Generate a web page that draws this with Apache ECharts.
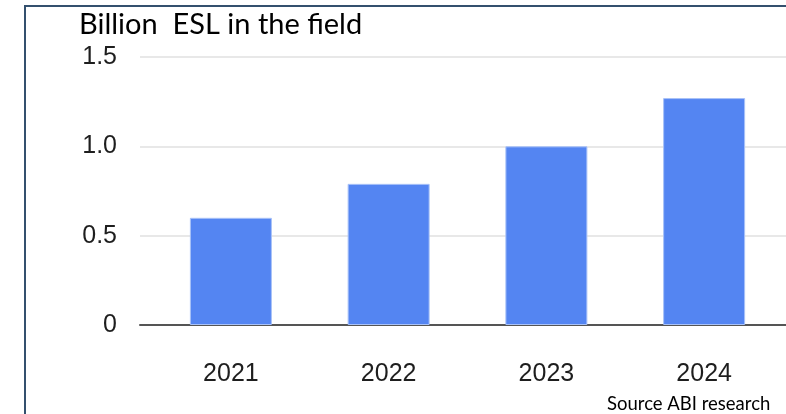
<!DOCTYPE html>
<html><head><meta charset="utf-8">
<script src="https://cdn.jsdelivr.net/npm/echarts@6/dist/echarts.min.js"></script>
<style>html,body{margin:0;padding:0;background:#fff}#c{width:786px;height:414px}</style>
</head><body><div id="c"></div>
<script>
const categories = ['2021', '2022', '2023', '2024'];
const values = [0.6, 0.79, 1.0, 1.27];
const yTicks = [0, 0.5, 1.0, 1.5];
const titleText = 'Billion  ESL in the field';
const sourceText = 'Source ABI research';

const chart = echarts.init(document.getElementById('c'), null, {renderer: 'canvas'});
const yMin = yTicks[0], yMax = yTicks[yTicks.length - 1], yStep = yTicks[1] - yTicks[0];
const labelFont = {fontFamily: 'Liberation Sans', fontSize: 25, color: '#1e1e1e'};
chart.setOption({
  animation: false,
  graphic: [
    {type: 'rect', shape: {x: 25, y: 6, width: 900, height: 600}, style: {fill: 'none', stroke: '#34506e', lineWidth: 2}, z: 100}
  ],
  title: [
    {text: titleText, left: 79, top: 10, padding: 0, textStyle: {fontFamily: 'Lato', fontWeight: 'normal', fontSize: 29, color: '#000'}},
    {text: sourceText, left: 607, top: 395, padding: 0, textStyle: {fontFamily: 'Lato', fontWeight: 'normal', fontSize: 18.5, color: '#000'}}
  ],
  grid: [
    {left: 140, right: 0, top: 57, bottom: 89},
    {left: 152, right: 3, top: 57, bottom: 89}
  ],
  xAxis: [
    {type: 'category', gridIndex: 0, data: categories, axisLabel: {show: false}, axisTick: {show: false},
     axisLine: {lineStyle: {color: '#555', width: 2}}},
    {type: 'category', gridIndex: 1, data: categories, axisTick: {show: false}, axisLine: {show: false},
     axisLabel: Object.assign({margin: 37}, labelFont)}
  ],
  yAxis: [
    {type: 'value', gridIndex: 0, min: yMin, max: yMax, interval: yStep,
     axisLabel: Object.assign({margin: 23, formatter: v => v === 0 ? '0' : v.toFixed(1)}, labelFont),
     splitLine: {lineStyle: {color: '#e8e8e8', width: 2}}, axisLine: {show: false}, axisTick: {show: false}},
    {type: 'value', gridIndex: 1, min: yMin, max: yMax, interval: yStep, show: false, splitLine: {show: false}}
  ],
  series: [{
    type: 'bar', xAxisIndex: 1, yAxisIndex: 1, data: values, barWidth: 82,
    itemStyle: {color: '#5485f2', borderColor: '#a9c2f8', borderWidth: 1}
  }]
});
</script></body></html>
